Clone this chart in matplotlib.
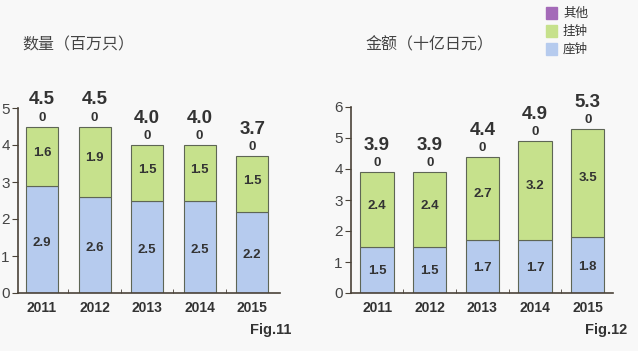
import numpy as np
import matplotlib.pyplot as plt

plt.rcParams['font.family'] = ['Liberation Sans', 'Noto Sans CJK SC']

years = ['2011', '2012', '2013', '2014', '2015']
# Fig.11 数量（百万只）
qty_desk = [2.9, 2.6, 2.5, 2.5, 2.2]
qty_wall = [1.6, 1.9, 1.5, 1.5, 1.5]
qty_other = [0, 0, 0, 0, 0]
qty_total = ['4.5', '4.5', '4.0', '4.0', '3.7']
# Fig.12 金额（十亿日元）
val_desk = [1.5, 1.5, 1.7, 1.7, 1.8]
val_wall = [2.4, 2.4, 2.7, 3.2, 3.5]
val_other = [0, 0, 0, 0, 0]
val_total = ['3.9', '3.9', '4.4', '4.9', '5.3']

c_desk = '#b6cbee'
c_wall = '#c6e18c'
c_other = '#a46ab8'
c_edge = '#5e6655'
c_axis = '#4a4238'
c_text = '#333333'
bg = '#f8f8f8'

W, H = 638, 351
fig = plt.figure(figsize=(W / 100, H / 100), dpi=100, facecolor=bg)


def panel(x0, x1, ytop, ymax, xl, width, desk, wall, other, total, fig_label, lx):
    ax = fig.add_axes([x0 / W, (H - 293) / H, (x1 - x0) / W, (293 - ytop) / H])
    ax.set_facecolor(bg)
    x = np.arange(len(years))
    ax.bar(x, desk, width, color=c_desk, edgecolor=c_edge, linewidth=0.8)
    ax.bar(x, wall, width, bottom=desk, color=c_wall, edgecolor=c_edge, linewidth=0.8)
    tops = np.array(desk) + np.array(wall) + np.array(other)
    for i in x:
        ax.text(i, desk[i] * 0.47, f'{desk[i]:.1f}', ha='center', va='center',
                fontsize=9.5, fontweight='bold', color=c_text)
        ax.text(i, desk[i] + wall[i] * 0.55, f'{wall[i]:.1f}', ha='center', va='center',
                fontsize=9.5, fontweight='bold', color=c_text)
        ax.annotate(str(other[i]), (i, tops[i]), xytext=(0, 2), textcoords='offset points',
                    ha='center', va='bottom', fontsize=9.5, fontweight='bold', color=c_text)
        ax.annotate(total[i], (i, tops[i]), xytext=(0, 13), textcoords='offset points',
                    ha='center', va='bottom', fontsize=13.5, fontweight='bold', color=c_text)
    ax.set_xlim(*xl)
    ax.set_ylim(0, ymax)
    ax.set_yticks(range(ymax + 1))
    ax.set_xticks(x)
    ax.set_xticklabels(years, fontsize=10, fontweight='bold', color=c_text)
    ax.set_xticks(x[:-1] + 0.5, minor=True)
    ax.tick_params(axis='x', which='major', length=0, pad=6)
    ax.tick_params(axis='x', which='minor', direction='in', length=3, color=c_axis)
    ax.tick_params(axis='y', direction='out', length=4, color=c_axis, labelsize=11,
                   labelcolor='#444444', pad=2)
    for s in ['top', 'right']:
        ax.spines[s].set_visible(False)
    for s in ['left', 'bottom']:
        ax.spines[s].set_color(c_axis)
        ax.spines[s].set_linewidth(1.2)
    fig.text(lx / W, 1 - 330 / H, fig_label, fontsize=10.5, fontweight='bold',
             color=c_text, ha='left', va='center')
    return ax


panel(18, 280, 108, 5, (-0.457, 4.53), 0.61, qty_desk, qty_wall, qty_other,
      qty_total, 'Fig.11', 250)
panel(351, 613, 107, 6, (-0.495, 4.48), 0.63, val_desk, val_wall, val_other,
      val_total, 'Fig.12', 585)

fig.text(22 / W, 1 - 45 / H, '数量（百万只）', fontsize=11.5, color='#444444',
         family=['Noto Sans CJK SC'], va='center', ha='left')
fig.text(365 / W, 1 - 45 / H, '金额（十亿日元）', fontsize=11.5, color='#444444',
         family=['Noto Sans CJK SC'], va='center', ha='left')

legend = [('其他', c_other), ('挂钟', c_wall), ('座钟', c_desk)]
for k, (name, col) in enumerate(legend):
    yy = 1 - (13 + 18 * k) / H
    fig.patches.append(plt.Rectangle((546 / W, yy - 5.5 / H), 11 / W, 11 / H,
                                     transform=fig.transFigure, color=col, figure=fig))
    fig.text(563 / W, yy, name, fontsize=9, color='#333333',
             family=['Noto Sans CJK SC'], va='center', ha='left')

fig.savefig('out.png', dpi=100, facecolor=bg)
